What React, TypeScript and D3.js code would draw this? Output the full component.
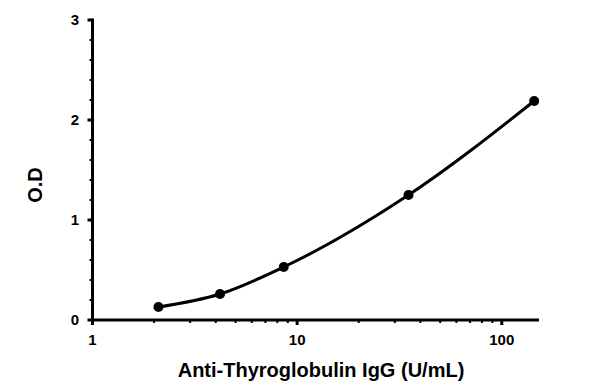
import React from "react";
import * as d3 from "d3";

const concentrations = [2.1, 4.2, 8.6, 35, 144];
const odValues = [0.13, 0.26, 0.53, 1.25, 2.19];
const xTickValues = [1, 10, 100];
const yTickValues = [0, 1, 2, 3];
const xLabel = "Anti-Thyroglobulin IgG (U/mL)";
const yLabel = "O.D";

const W = 593;
const H = 392;
const FONT = "'Liberation Sans', Arial, sans-serif";

export default function App() {
  const x = d3.scaleLog().domain([1, 152]).range([92.5, 539]);
  const y = d3.scaleLinear().domain([0, 3]).range([320, 20]);

  const pts = concentrations.map((c, i) => [x(c), y(odValues[i])] as [number, number]);
  const line = d3.line().curve(d3.curveMonotoneX)(pts) || "";

  const xMinor: number[] = [];
  for (let d = 1; d <= 100; d *= 10) {
    for (let k = 2; k <= 9; k++) {
      const v = d * k;
      if (v <= 152) xMinor.push(v);
    }
  }
  const yMinor = d3.range(0, 3.0001, 0.2).filter((v) => Math.abs(v - Math.round(v)) > 1e-6);

  const axisColor = "#000";
  return (
    <svg width={W} height={H} style={{ position: "absolute", left: 0, top: 0, background: "#fff" }}>
      <rect width={W} height={H} fill="#fff" />
      {yTickValues.map((v) => (
        <g key={"yt" + v}>
          <line x1={x(1) - 5} x2={x(1)} y1={y(v)} y2={y(v)} stroke={axisColor} strokeWidth={3} />
          <text x={79} y={y(v)} dy="0.35em" textAnchor="end" fontFamily={FONT} fontWeight="bold" fontSize={15}>
            {v}
          </text>
        </g>
      ))}
      {yMinor.map((v, i) => (
        <line key={"ym" + i} x1={x(1) - 3} x2={x(1)} y1={y(v)} y2={y(v)} stroke={axisColor} strokeWidth={2} />
      ))}
      {xTickValues.map((v) => (
        <g key={"xt" + v}>
          <line x1={x(v)} x2={x(v)} y1={y(0)} y2={y(0) + 5} stroke={axisColor} strokeWidth={3} />
          <text x={x(v)} y={345} textAnchor="middle" fontFamily={FONT} fontWeight="bold" fontSize={15}>
            {v}
          </text>
        </g>
      ))}
      {xMinor.map((v, i) => (
        <line key={"xm" + i} x1={x(v)} x2={x(v)} y1={y(0)} y2={y(0) + 3} stroke={axisColor} strokeWidth={2} />
      ))}
      <line x1={x(1)} x2={x(1)} y1={y(3) - 1.5} y2={y(0) + 1.5} stroke={axisColor} strokeWidth={3} />
      <line x1={x(1) - 1.5} x2={x(152)} y1={y(0)} y2={y(0)} stroke={axisColor} strokeWidth={3} />
      <path d={line} fill="none" stroke="#000" strokeWidth={3} />
      {pts.map((p, i) => (
        <circle key={"p" + i} cx={p[0]} cy={p[1]} r={5} fill="#000" />
      ))}
      <text x={321} y={377} textAnchor="middle" fontFamily={FONT} fontWeight="bold" fontSize={20}>
        {xLabel}
      </text>
      <text
        transform={`translate(42,${185}) rotate(-90)`}
        textAnchor="middle"
        fontFamily={FONT}
        fontWeight="bold"
        fontSize={20}
      >
        {yLabel}
      </text>
    </svg>
  );
}
